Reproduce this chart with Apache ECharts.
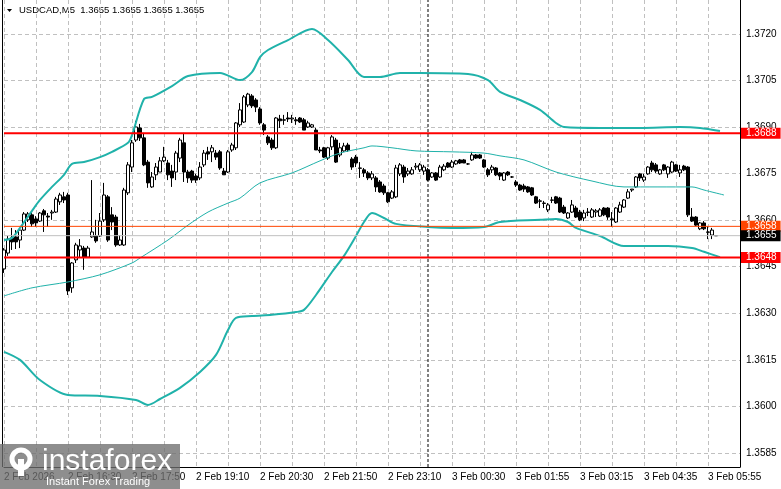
<!DOCTYPE html>
<html><head><meta charset="utf-8">
<script src="https://cdn.jsdelivr.net/npm/echarts@6/dist/echarts.min.js"></script>
<style>html,body{margin:0;padding:0;background:#fff}#c{width:781px;height:489px}</style>
</head><body><div id="c"></div><script>
const symbolName = 'USDCAD,M5';
const lastQuote = [1.3655, 1.3655, 1.3655, 1.3655];
const categoryCount = 185;
// [open, close, low, high]
const candles = [
[1.36443,1.36504,1.36430,1.36510],[1.36494,1.36539,1.36485,1.36549],[1.36543,1.36530,1.36504,1.36575],[1.36546,1.36530,1.36507,1.36568],
[1.36536,1.36568,1.36510,1.36575],[1.36568,1.36620,1.36565,1.36626],[1.36601,1.36620,1.36594,1.36626],[1.36617,1.36588,1.36578,1.36623],
[1.36604,1.36591,1.36578,1.36613],[1.36597,1.36623,1.36594,1.36626],[1.36630,1.36617,1.36562,1.36636],[1.36613,1.36610,1.36578,1.36623],
[1.36623,1.36626,1.36601,1.36633],[1.36626,1.36668,1.36623,1.36675],[1.36659,1.36681,1.36649,1.36688],[1.36675,1.36665,1.36655,1.36691],
[1.36681,1.36372,1.36359,1.36688],[1.36382,1.36462,1.36366,1.36465],[1.36472,1.36520,1.36462,1.36527],[1.36504,1.36517,1.36481,1.36539],
[1.36510,1.36481,1.36440,1.36517],[1.36481,1.36510,1.36478,1.36517],[1.36546,1.36562,1.36543,1.36729],[1.36549,1.36533,1.36527,1.36601],
[1.36549,1.36597,1.36546,1.36623],[1.36601,1.36681,1.36594,1.36720],[1.36675,1.36536,1.36530,1.36681],[1.36617,1.36594,1.36568,1.36642],
[1.36610,1.36520,1.36514,1.36617],[1.36520,1.36536,1.36517,1.36552],[1.36520,1.36697,1.36517,1.36704],[1.36688,1.36778,1.36681,1.36787],
[1.36771,1.36849,1.36755,1.36858],[1.36858,1.36900,1.36852,1.36920],[1.36897,1.36865,1.36855,1.36910],[1.36865,1.36778,1.36774,1.36881],
[1.36787,1.36720,1.36704,1.36794],[1.36707,1.36739,1.36704,1.36755],[1.36746,1.36771,1.36729,1.36784],[1.36755,1.36791,1.36755,1.36803],
[1.36791,1.36803,1.36787,1.36836],[1.36784,1.36746,1.36729,1.36794],[1.36758,1.36736,1.36707,1.36778],[1.36755,1.36816,1.36729,1.36823],
[1.36800,1.36858,1.36787,1.36865],[1.36849,1.36755,1.36723,1.36881],[1.36755,1.36736,1.36720,1.36762],[1.36758,1.36729,1.36720,1.36762],
[1.36742,1.36729,1.36720,1.36749],[1.36736,1.36771,1.36729,1.36787],[1.36778,1.36816,1.36771,1.36826],[1.36820,1.36813,1.36794,1.36836],
[1.36820,1.36833,1.36787,1.36842],[1.36816,1.36803,1.36794,1.36826],[1.36820,1.36768,1.36762,1.36826],[1.36758,1.36746,1.36746,1.36768],
[1.36755,1.36820,1.36752,1.36826],[1.36826,1.36842,1.36820,1.36849],[1.36833,1.36913,1.36826,1.36916],[1.36907,1.36955,1.36900,1.36977],
[1.36916,1.36997,1.36913,1.37003],[1.36971,1.37006,1.36964,1.37010],[1.37000,1.36968,1.36961,1.37006],[1.36987,1.36964,1.36948,1.36993],
[1.36958,1.36913,1.36907,1.36964],[1.36907,1.36890,1.36874,1.36913],[1.36868,1.36849,1.36842,1.36874],[1.36858,1.36833,1.36826,1.36865],
[1.36833,1.36929,1.36829,1.36932],[1.36926,1.36920,1.36897,1.36939],[1.36923,1.36922,1.36907,1.36939],[1.36929,1.36926,1.36916,1.36948],
[1.36926,1.36929,1.36913,1.36939],[1.36923,1.36920,1.36907,1.36932],[1.36929,1.36916,1.36913,1.36932],[1.36923,1.36890,1.36890,1.36929],
[1.36900,1.36913,1.36897,1.36920],[1.36900,1.36907,1.36897,1.36910],[1.36890,1.36826,1.36826,1.36897],[1.36826,1.36823,1.36816,1.36836],
[1.36833,1.36803,1.36800,1.36836],[1.36800,1.36833,1.36794,1.36836],[1.36836,1.36868,1.36826,1.36874],[1.36858,1.36787,1.36784,1.36865],
[1.36810,1.36833,1.36803,1.36849],[1.36823,1.36839,1.36820,1.36849],[1.36842,1.36826,1.36820,1.36849],[1.36797,1.36771,1.36762,1.36803],
[1.36803,1.36784,1.36771,1.36810],[1.36768,1.36767,1.36736,1.36787],[1.36762,1.36752,1.36739,1.36768],[1.36752,1.36736,1.36729,1.36758],
[1.36736,1.36749,1.36729,1.36758],[1.36736,1.36707,1.36691,1.36742],[1.36723,1.36691,1.36688,1.36729],[1.36710,1.36688,1.36681,1.36717],
[1.36688,1.36659,1.36655,1.36691],[1.36671,1.36691,1.36668,1.36697],[1.36675,1.36768,1.36671,1.36778],[1.36749,1.36778,1.36742,1.36784],
[1.36771,1.36739,1.36720,1.36778],[1.36749,1.36758,1.36742,1.36768],[1.36749,1.36762,1.36746,1.36771],[1.36771,1.36774,1.36762,1.36784],
[1.36762,1.36778,1.36755,1.36784],[1.36758,1.36771,1.36746,1.36778],[1.36762,1.36729,1.36726,1.36768],[1.36739,1.36752,1.36736,1.36755],
[1.36752,1.36729,1.36726,1.36755],[1.36739,1.36771,1.36736,1.36778],[1.36762,1.36774,1.36758,1.36781],[1.36784,1.36771,1.36768,1.36787],
[1.36771,1.36787,1.36768,1.36794],[1.36781,1.36791,1.36778,1.36794],[1.36794,1.36784,1.36781,1.36797],[1.36794,1.36784,1.36784,1.36797],
[1.36781,1.36781,1.36778,1.36784],[1.36794,1.36810,1.36791,1.36820],[1.36810,1.36800,1.36797,1.36813],[1.36810,1.36800,1.36797,1.36813],
[1.36794,1.36771,1.36768,1.36797],[1.36762,1.36746,1.36739,1.36768],[1.36762,1.36771,1.36752,1.36778],[1.36768,1.36746,1.36742,1.36771],
[1.36752,1.36742,1.36729,1.36755],[1.36729,1.36752,1.36726,1.36755],[1.36755,1.36746,1.36742,1.36758],[1.36739,1.36739,1.36736,1.36742],
[1.36723,1.36713,1.36707,1.36729],[1.36713,1.36697,1.36694,1.36717],[1.36710,1.36700,1.36691,1.36717],[1.36707,1.36691,1.36688,1.36710],
[1.36704,1.36681,1.36678,1.36707],[1.36675,1.36655,1.36652,1.36678],[1.36662,1.36661,1.36639,1.36668],[1.36655,1.36654,1.36639,1.36662],
[1.36633,1.36649,1.36626,1.36655],[1.36665,1.36664,1.36655,1.36675],[1.36675,1.36655,1.36652,1.36678],[1.36671,1.36626,1.36623,1.36675],
[1.36642,1.36623,1.36620,1.36649],[1.36607,1.36623,1.36604,1.36626],[1.36626,1.36649,1.36623,1.36665],[1.36639,1.36610,1.36607,1.36646],
[1.36626,1.36601,1.36597,1.36633],[1.36607,1.36623,1.36597,1.36633],[1.36626,1.36625,1.36613,1.36639],[1.36610,1.36633,1.36607,1.36639],
[1.36626,1.36630,1.36610,1.36636],[1.36613,1.36633,1.36610,1.36639],[1.36639,1.36617,1.36613,1.36642],[1.36639,1.36610,1.36601,1.36642],
[1.36604,1.36601,1.36578,1.36626],[1.36594,1.36639,1.36591,1.36642],[1.36626,1.36649,1.36623,1.36659],[1.36642,1.36665,1.36639,1.36668],
[1.36671,1.36691,1.36668,1.36700],[1.36697,1.36700,1.36691,1.36700],[1.36707,1.36739,1.36704,1.36742],[1.36749,1.36736,1.36726,1.36752],
[1.36729,1.36739,1.36723,1.36749],[1.36749,1.36771,1.36746,1.36774],[1.36784,1.36762,1.36755,1.36791],[1.36778,1.36758,1.36752,1.36784],
[1.36749,1.36762,1.36746,1.36765],[1.36778,1.36762,1.36758,1.36781],[1.36749,1.36771,1.36736,1.36774],[1.36755,1.36787,1.36752,1.36791],
[1.36778,1.36758,1.36755,1.36781],[1.36752,1.36762,1.36739,1.36778],[1.36774,1.36762,1.36758,1.36778],[1.36771,1.36617,1.36610,1.36774],
[1.36610,1.36597,1.36594,1.36639],[1.36610,1.36584,1.36581,1.36613],[1.36572,1.36591,1.36568,1.36594],[1.36591,1.36572,1.36568,1.36597],
[1.36562,1.36561,1.36539,1.36581],[1.36552,1.36568,1.36539,1.36575],[1.3655,1.3655,1.3655,1.3655]
];
const tickIndex  = [0, 16, 32, 48, 64, 80, 96, 112, 128, 144, 160, 176];
const tickLabels = ['2 Feb 2026','2 Feb 16:30','2 Feb 17:50','2 Feb 19:10','2 Feb 20:30','2 Feb 21:50','2 Feb 23:10','3 Feb 00:30','3 Feb 01:55','3 Feb 03:15','3 Feb 04:35','3 Feb 05:55'];
const yTicks = [1.3585, 1.3600, 1.3615, 1.3630, 1.3645, 1.3660, 1.3675, 1.3690, 1.3705, 1.3720];
const upperBand = [[0,1.36536],[2,1.36543],[4,1.36575],[7,1.36630],[9,1.36665],[12,1.36707],[15,1.36746],[17,1.36781],[20,1.36787],[24,1.36803],[27,1.36820],[31,1.36849],[32,1.36874],[35,1.36990],[37,1.36997],[42,1.37032],[46,1.37064],[54,1.37074],[59,1.37051],[62,1.37077],[64,1.37125],[66,1.37148],[71,1.37180],[77,1.37216],[81,1.37180],[86,1.37116],[90,1.37061],[94,1.37061],[99,1.37074],[104,1.37074],[116,1.37071],[121,1.37051],[124,1.37013],[129,1.36987],[134,1.36955],[138,1.36913],[140,1.36900],[149,1.36897],[159,1.36897],[169,1.36900],[174,1.36897],[179,1.36887]];
const middleBand = [[0,1.36356],[7,1.36382],[16,1.36401],[24,1.36424],[32,1.36462],[34,1.36478],[41,1.36536],[46,1.36584],[51,1.36626],[56,1.36655],[59,1.36671],[64,1.36720],[72,1.36752],[79,1.36791],[84,1.36816],[90,1.36833],[92,1.36839],[97,1.36833],[103,1.36823],[112,1.36820],[120,1.36816],[124,1.36807],[130,1.36794],[138,1.36755],[147,1.36726],[155,1.36707],[172,1.36707],[175,1.36697],[180,1.36681]];
const lowerBand = [[0,1.36176],[4,1.36150],[9,1.36085],[16,1.36037],[24,1.36034],[33,1.36021],[36,1.36005],[39,1.36024],[44,1.36060],[49,1.36111],[53,1.36166],[56,1.36246],[58,1.36285],[62,1.36291],[67,1.36295],[73,1.36304],[75,1.36311],[78,1.36359],[82,1.36433],[85,1.36485],[88,1.36549],[90,1.36594],[92,1.36623],[95,1.36607],[98,1.36588],[106,1.36578],[112,1.36575],[120,1.36578],[124,1.36594],[134,1.36601],[138,1.36604],[141,1.36594],[143,1.36575],[149,1.36549],[155,1.36517],[166,1.36517],[172,1.36510],[175,1.36498],[179,1.36481]];
const levelPrices = [1.3688, 1.3658, 1.3655, 1.3648];
const levelColors = ['#ff0000', '#ff4500', '#c0c0c0', '#ff0000'];
const levelTagColors = ['#ff0000', '#ff4500', '#000000', '#ff0000'];
const levelWidths = [2, 1, 1, 2];
const daySeparatorIndex = 106;
const yMin = 1.35805, yMax = 1.37309;

const font = 'Liberation Sans, Arial, sans-serif';
const cats = Array.from({length: categoryCount}, (_, i) => String(i));
const labelMap = {};
tickIndex.forEach((t, k) => { labelMap[t] = tickLabels[k]; });
const bandColor = '#20b2aa';
const gridLine = {color: '#c0c0c0', width: 1, type: [4, 3]};

const levelSeries = levelPrices.map((p, k) => ({
  type: 'line', data: [[0, p], [categoryCount - 1, p]], showSymbol: false, silent: true, zlevel: 1, z: 5 + k,
  lineStyle: {color: levelColors[k], width: levelWidths[k], type: 'solid'},
  endLabel: {show: true, distance: 1, formatter: () => p.toFixed(4),
    color: '#fff', backgroundColor: levelTagColors[k], fontSize: 10, fontFamily: font,
    lineHeight: 11, padding: [0, 4, 0, 5]},
  labelLayout: {hideOverlap: false}
}));

const chart = echarts.init(document.getElementById('c'), null, {renderer: 'canvas'});
chart.setOption({
  animation: false,
  backgroundColor: '#fff',
  grid: {left: 4, right: 41, top: 0, bottom: 22},
  xAxis: {
    type: 'category', data: cats, boundaryGap: false,
    axisLine: {show: true, lineStyle: {color: '#000', width: 1}},
    axisTick: {show: false},
    axisLabel: {
      interval: (i) => labelMap[i] !== undefined,
      formatter: (v) => labelMap[+v] || '',
      align: 'left', margin: 5, color: '#000', fontSize: 10, fontFamily: font
    },
    splitLine: {show: true, interval: (i) => i % 8 === 0, lineStyle: gridLine}
  },
  yAxis: {
    type: 'value', position: 'right', min: yMin, max: yMax,
    axisLine: {show: true, lineStyle: {color: '#000', width: 1}},
    axisTick: {show: false, customValues: yTicks},
    axisLabel: {customValues: yTicks, formatter: (v) => v.toFixed(4), color: '#000',
      fontSize: 10, fontFamily: font, margin: 6},
    splitLine: {show: true, lineStyle: gridLine}
  },
  series: [
    {type: 'line', data: [[daySeparatorIndex, yMin], [daySeparatorIndex, yMax]], showSymbol: false, silent: true,
     lineStyle: {color: '#000', width: 1, type: [3, 2]}},
    {type: 'candlestick', data: candles, barWidth: 3, clip: false,
     itemStyle: {color: '#fff', color0: '#000', borderColor: '#000', borderColor0: '#000', borderWidth: 1}},
    {type: 'line', data: upperBand, showSymbol: false, smooth: 0.3, lineStyle: {color: bandColor, width: 2}},
    {type: 'line', data: lowerBand, showSymbol: false, smooth: 0.3, lineStyle: {color: bandColor, width: 2}},
    {type: 'line', data: middleBand, showSymbol: false, smooth: 0.3, lineStyle: {color: bandColor, width: 1}}
  ].concat(levelSeries),
  graphic: [
    {type: 'line', shape: {x1: 2.5, y1: 0, x2: 2.5, y2: 467}, style: {stroke: '#000', lineWidth: 1}},
    {type: 'polygon', shape: {points: [[7, 9], [12, 9], [9.5, 12]]}, style: {fill: '#000'}},
    {type: 'text', x: 19, y: 10.5, style: {text: symbolName + '  ' + lastQuote.map(v => v.toFixed(4)).join(' '),
      font: '9.5px ' + font, fill: '#000', verticalAlign: 'middle'}},
    {type: 'rect', shape: {x: 0, y: 444, width: 180, height: 45}, style: {fill: 'rgba(110,110,110,0.78)'}, z: 100, zlevel: 2},
    {type: 'circle', shape: {cx: 21, cy: 459, r: 9}, style: {fill: 'none', stroke: '#fff', lineWidth: 5}, z: 101, zlevel: 2},
    {type: 'rect', shape: {x: 18, y: 459, width: 6, height: 17}, style: {fill: '#fff'}, z: 101, zlevel: 2},
    {type: 'text', x: 42, y: 462, style: {text: 'instaforex', font: '30px ' + font, fill: '#fff', verticalAlign: 'middle'}, z: 101, zlevel: 2},
    {type: 'text', x: 46, y: 482, style: {text: 'Instant Forex Trading', font: '11px ' + font, fill: '#fff', verticalAlign: 'middle'}, z: 101, zlevel: 2}
  ]
});
</script></body></html>
